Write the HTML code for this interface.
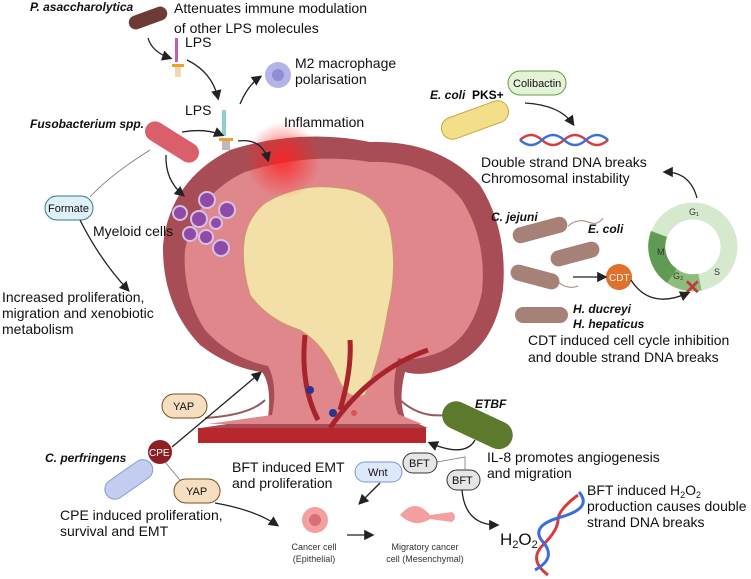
<!DOCTYPE html>
<html><head><meta charset="utf-8"><style>
html,body{margin:0;padding:0;background:#fff;}
svg{display:block;font-family:"Liberation Sans",sans-serif;}
.t{font-size:14px;fill:#111;}
.b{font-weight:bold;font-style:italic;font-size:12px;fill:#111;}
.s{font-size:9px;fill:#333;}
</style></head><body>
<svg width="751" height="579" viewBox="0 0 751 579" xmlns="http://www.w3.org/2000/svg">
<defs>
<marker id="ar" markerWidth="8" markerHeight="8" refX="6" refY="4" orient="auto"><path d="M0,0 L8,4 L0,8 Z" fill="#222"/></marker>
<radialGradient id="inf"><stop offset="0" stop-color="#ff2020" stop-opacity=".85"/><stop offset="1" stop-color="#ff2020" stop-opacity="0"/></radialGradient>
</defs>
<!-- tumor -->
<path d="M200,428 L268,418 Q272,385 262,372 Q230,368 200,345 Q162,305 163,245 Q170,180 230,150 Q300,128 370,142 Q440,140 480,185 Q508,230 503,290 Q495,345 455,365 Q425,378 405,372 Q398,400 405,418 L428,428 Z" fill="#a84d55"/>
<path d="M208,424 L272,415 Q278,385 268,366 Q230,358 205,330 Q182,295 185,250 Q195,195 245,172 Q310,152 370,162 Q430,160 462,200 Q487,240 482,292 Q472,338 440,352 Q415,362 398,358 Q390,395 398,414 L422,424 Z" fill="#e0878c"/>
<path d="M265,203 Q300,182 340,188 Q380,192 390,228 Q398,270 388,310 Q380,360 365,395 Q348,402 338,378 Q325,345 300,330 Q268,320 250,295 Q240,262 245,235 Q250,215 265,203 Z" fill="#f3dfa8" stroke="#c89a6a" stroke-width="1"/>
<path d="M318,420 Q300,385 305,335 M330,428 Q370,370 428,350 M340,410 Q352,370 350,340" stroke="#a8242c" stroke-width="5" fill="none"/>
<rect x="198" y="428" width="228" height="15" fill="#b8262e"/>
<path d="M205,418 Q250,415 265,400 M400,400 Q420,418 445,415" stroke="#9a5a5e" stroke-width="2" fill="none"/>
<circle cx="310" cy="390" r="4" fill="#2a3590"/><circle cx="333" cy="413" r="4" fill="#2a3590"/><circle cx="354" cy="413" r="3" fill="#e05050"/>
<circle cx="283" cy="160" r="38" fill="url(#inf)"/>
<!-- myeloid -->
<g fill="#8e4aa6" stroke="#d4c0e8" stroke-width="2">
<circle cx="207" cy="200" r="8"/><circle cx="227" cy="210" r="8"/><circle cx="180" cy="213" r="7"/><circle cx="199" cy="219" r="8"/><circle cx="216" cy="223" r="6"/><circle cx="190" cy="234" r="7"/><circle cx="206" cy="237" r="7"/><circle cx="221" cy="248" r="8"/></g>
<!-- bacteria -->
<rect x="128" y="11" width="40" height="14" rx="7" fill="#6e3a36" transform="rotate(-20 148 18)"/>
<rect x="142" y="132" width="60" height="20" rx="10" fill="#d9606a" transform="rotate(32 172 142)"/>
<rect x="440" y="109" width="70" height="22" rx="11" fill="#f3de8a" stroke="#c9a640" transform="rotate(-20 475 120)"/>
<rect x="512" y="222" width="56" height="16" rx="8" fill="#a68178" transform="rotate(-15 540 230)"/>
<rect x="550" y="246" width="50" height="16" rx="8" fill="#a68178" transform="rotate(-15 575 254)"/>
<rect x="510" y="269" width="50" height="16" rx="8" fill="#a68178" transform="rotate(15 535 277)"/>
<rect x="515" y="307" width="53" height="16" rx="8" fill="#a68178"/>
<path d="M568,226 q10,-8 20,-4 t15,-4 M558,282 q10,8 20,4" stroke="#a68178" fill="none"/>
<rect x="440" y="411" width="75" height="28" rx="14" fill="#5d7a2c" transform="rotate(25 477 425)"/>
<rect x="102" y="470" width="54" height="20" rx="10" fill="#c3cdf0" stroke="#8a9ad0" transform="rotate(-35 128 480)"/>
<!-- LPS molecules -->
<rect x="175" y="38" width="3" height="24" fill="#c060b0"/><rect x="172" y="64" width="12" height="3" fill="#f0a030"/><rect x="175" y="67" width="6" height="10" fill="#eed9b0"/>
<rect x="222" y="110" width="4" height="26" fill="#8fcfd0"/><rect x="219" y="138" width="14" height="3" fill="#f0a030"/><rect x="222" y="141" width="8" height="9" fill="#bbb"/>
<!-- DNA -->
<path d="M520,140 q11,-10 22,0 t22,0 t22,0 t22,0" stroke="#d83b3b" stroke-width="2.5" fill="none"/>
<path d="M520,140 q11,10 22,0 t22,0 t22,0 t22,0" stroke="#3b6fd8" stroke-width="2.5" fill="none"/>
<path d="M548,575 q-20,-15 -5,-30 t15,-25 t20,-25" stroke="#d83b3b" stroke-width="3" fill="none"/>
<path d="M535,570 q22,-12 8,-28 t18,-25 t18,-25" stroke="#3b6fd8" stroke-width="3" fill="none"/>
<!-- cell cycle -->
<circle cx="693" cy="247" r="36" fill="none" stroke="#d6e9cf" stroke-width="17"/>
<path d="M659,234 A36,36 0 0 0 672,276" stroke="#5f9b52" stroke-width="17" fill="none"/>
<path d="M672,276 A36,36 0 0 0 700,282" stroke="#8dbc7c" stroke-width="17" fill="none"/>
<text x="689" y="215" class="s" font-size="7">G₁</text><text x="657" y="255" class="s" font-size="8">M</text><text x="673" y="279" class="s" font-size="7">G₂</text><text x="714" y="275" class="s" font-size="8">S</text>
<text x="684" y="294" font-size="20" font-weight="bold" fill="#c03a3a">✕</text>
<circle cx="619" cy="277" r="13" fill="#e0702a"/><text x="609" y="281" font-size="10" fill="#fff">CDT</text>
<circle cx="160" cy="452" r="12" fill="#8c1f25"/><text x="149" y="456" font-size="10" fill="#fff">CPE</text>
<circle cx="278" cy="75" r="13" fill="#b4b4e8"/><circle cx="278" cy="75" r="6" fill="#8e8ed0"/>
<circle cx="315" cy="520" r="13" fill="#f3a0a0"/><circle cx="315" cy="520" r="6" fill="#d87078"/>
<path d="M400,515 q15,-18 30,0 l22,-3 q6,5 0,10 l-22,-3 q-15,10 -30,-4 Z" fill="#f3a0a0"/>
<!-- pills -->
<g font-size="11" fill="#111">
<rect x="508" y="71" width="58" height="24" rx="12" fill="#e4f2d8" stroke="#6a9a40"/><text x="513" y="87">Colibactin</text>
<rect x="45" y="196" width="48" height="24" rx="12" fill="#dff0f8" stroke="#3a7a8a"/><text x="48" y="212">Formate</text>
<rect x="162" y="394" width="45" height="24" rx="12" fill="#f5dfc0" stroke="#7a5020"/><text x="173" y="410">YAP</text>
<rect x="174" y="479" width="46" height="24" rx="12" fill="#f5dfc0" stroke="#7a5020"/><text x="186" y="495">YAP</text>
<rect x="355" y="462" width="47" height="20" rx="10" fill="#dde8fb" stroke="#7a9ad0"/><text x="368" y="476">Wnt</text>
<rect x="403" y="453" width="34" height="20" rx="10" fill="#e6e6e6" stroke="#333"/><text x="409" y="467">BFT</text>
<rect x="447" y="470" width="33" height="20" rx="10" fill="#e6e6e6" stroke="#333"/><text x="452" y="484">BFT</text>
</g>
<!-- lines -->
<g stroke="#777" stroke-width="0.8" fill="none">
<path d="M150,150 Q110,175 90,197"/><path d="M165,462 L180,480"/><path d="M437,462 L465,457 L465,470"/>
</g>
<!-- arrows -->
<g stroke="#222" stroke-width="1.3" fill="none" marker-end="url(#ar)">
<path d="M148,38 Q152,52 170,58"/><path d="M187,60 Q212,72 218,98"/><path d="M182,132 Q205,128 222,135"/>
<path d="M238,141 Q262,138 268,160"/><path d="M240,104 Q248,85 260,77"/><path d="M166,155 Q165,180 183,195"/>
<path d="M80,220 Q100,260 128,290"/>
<path d="M525,103 Q560,105 573,124"/><path d="M697,198 Q690,172 665,172"/><path d="M573,277 L605,277"/>
<path d="M631,280 Q650,310 688,293"/><path d="M172,447 L260,373"/><path d="M215,503 Q255,510 277,525"/>
<path d="M475,440 Q465,458 430,443"/><path d="M380,483 L360,503"/><path d="M347,535 L372,535"/><path d="M462,490 Q465,525 497,525"/>
</g>
<!-- texts -->
<text x="30" y="11" class="b">P. asaccharolytica</text>
<text x="174" y="13" class="t">Attenuates immune modulation</text>
<text x="174" y="33" class="t">of other LPS molecules</text>
<text x="185" y="47" class="t">LPS</text><text x="185" y="115" class="t">LPS</text>
<text x="295" y="68" class="t">M2 macrophage</text><text x="295" y="84" class="t">polarisation</text>
<text x="30" y="128" class="b">Fusobacterium spp.</text>
<text x="284" y="127" class="t">Inflammation</text>
<text x="430" y="99" class="b">E. coli</text><text x="472" y="99" font-size="12" font-weight="bold">PKS+</text>
<text x="481" y="167" class="t">Double strand DNA breaks</text><text x="481" y="183" class="t">Chromosomal instability</text>
<text x="93" y="236" class="t">Myeloid cells</text>
<text x="2" y="302" class="t">Increased proliferation,</text><text x="2" y="318" class="t">migration and xenobiotic</text><text x="2" y="334" class="t">metabolism</text>
<text x="491" y="221" class="b">C. jejuni</text><text x="588" y="233" class="b">E. coli</text>
<text x="573" y="313" class="b">H. ducreyi</text><text x="573" y="328" class="b">H. hepaticus</text>
<text x="528" y="345" class="t">CDT induced cell cycle inhibition</text><text x="528" y="362" class="t">and double strand DNA breaks</text>
<text x="475" y="408" class="b">ETBF</text>
<text x="45" y="462" class="b">C. perfringens</text>
<text x="232" y="472" class="t">BFT induced EMT</text><text x="232" y="488" class="t">and proliferation</text>
<text x="487" y="462" class="t">IL-8 promotes angiogenesis</text><text x="487" y="478" class="t">and migration</text>
<text x="587" y="495" class="t">BFT induced H<tspan font-size="9" dy="3">2</tspan><tspan dy="-3">O</tspan><tspan font-size="9" dy="3">2</tspan></text>
<text x="587" y="511" class="t">production causes double</text><text x="587" y="527" class="t">strand DNA breaks</text>
<text x="60" y="520" class="t">CPE induced proliferation,</text><text x="60" y="536" class="t">survival and EMT</text>
<text x="500" y="545" font-size="17" fill="#111">H<tspan font-size="11" dy="3">2</tspan><tspan dy="-3">O</tspan><tspan font-size="11" dy="3">2</tspan></text>
<text x="314" y="550" class="s" text-anchor="middle">Cancer cell</text><text x="314" y="562" class="s" text-anchor="middle">(Epithelial)</text>
<text x="425" y="550" class="s" text-anchor="middle">Migratory cancer</text><text x="425" y="562" class="s" text-anchor="middle">cell (Mesenchymal)</text>
</svg>
</body></html>
